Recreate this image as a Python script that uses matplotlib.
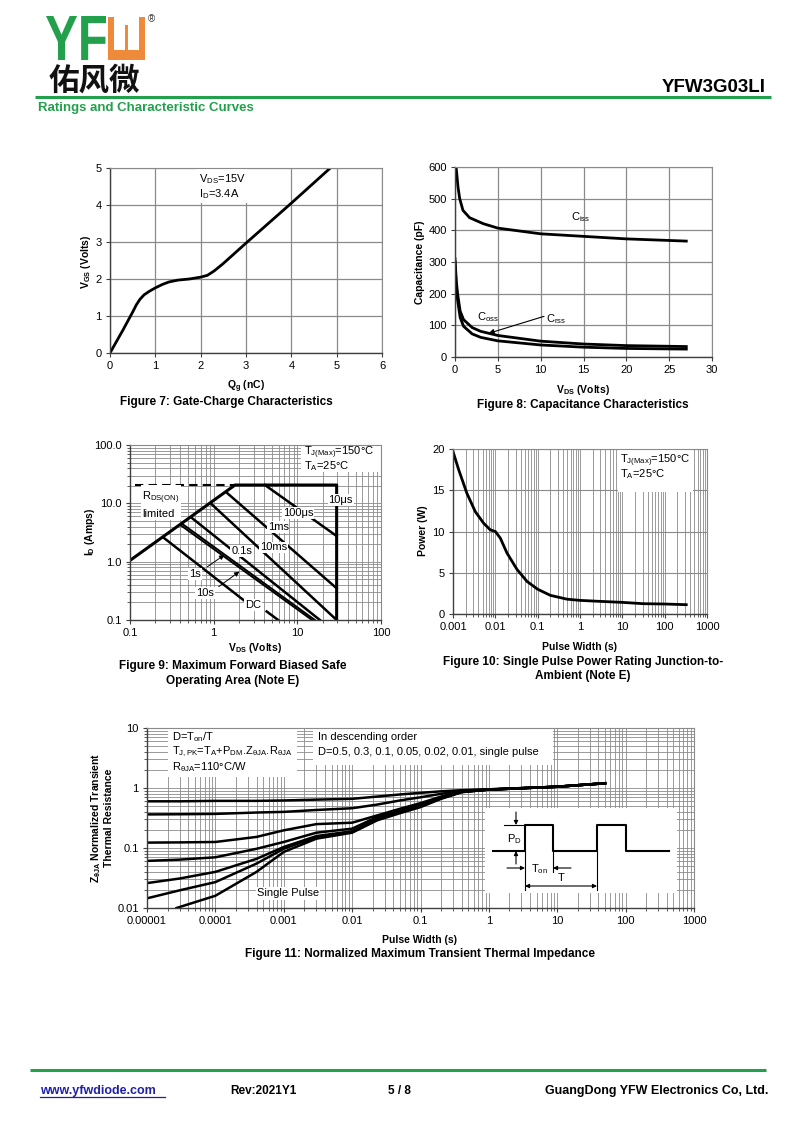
import numpy as np
import matplotlib.pyplot as plt
from matplotlib.patches import Rectangle, PathPatch
from matplotlib.textpath import TextPath
from matplotlib.font_manager import FontProperties
from matplotlib.transforms import Affine2D
from matplotlib.ticker import NullFormatter

plt.rcParams['font.family'] = ['Liberation Sans', 'DejaVu Sans']
plt.rcParams['mathtext.fontset'] = 'custom'
plt.rcParams['mathtext.rm'] = 'Liberation Sans'
plt.rcParams['mathtext.bf'] = 'Liberation Sans:bold'
plt.rcParams['mathtext.it'] = 'Liberation Sans:italic'

W, H = 800, 1130
GREEN = '#22a04b'
ORANGE = '#ef8a3b'
GRID = '#8a8a8a'

# Figure 7: gate charge
qg = [0, 0.29, 0.51, 0.58, 0.66, 0.75, 0.87, 1.0, 1.15, 1.3, 1.5, 1.75, 2.0, 2.15,
      2.3, 2.5, 3.0, 4.0, 4.86]
vgs = [0, 0.63, 1.13, 1.3, 1.45, 1.57, 1.67, 1.76, 1.85, 1.92, 1.97, 2.0, 2.05, 2.1,
       2.22, 2.42, 2.97, 4.05, 5.0]

# Figure 8: capacitance
vds_ciss = [0.08, 0.15, 0.35, 0.55, 0.93, 1.7, 3.3, 5, 10, 15, 20, 27]
ciss = [600, 594, 537, 500, 463, 440, 421, 407, 389, 381, 373, 366]
vds_c = [0, 0.15, 0.3, 0.6, 1, 2, 3, 5, 10, 15, 20, 27]
coss = [310, 240, 200, 145, 118, 93, 81, 68, 50, 41, 36, 33]
crss = [300, 220, 180, 125, 97, 73, 62, 51, 38, 31, 27, 25]

# Figure 9: safe operating area (line end points)
soa_env_v = [0.1, 1.8, 29.5, 29.5]
soa_env_i = [1.05, 20.6, 20.6, 0.1]
soa_dash_v = [0.115, 1.8]
soa_dash_i = [20.6, 20.6]
soa_lines = {
    '100us': ([4.1, 29.5], [20.6, 2.75]),
    '1ms': ([1.45, 29.5], [15.0, 0.35]),
    '10ms': ([0.95, 29.5], [9.6, 0.1]),
    '0.1s': ([0.55, 18.6], [5.6, 0.1]),
    'DC_a': ([0.25, 2.27], [2.6, 0.22]),
    'DC_b': ([4.3, 5.9], [0.14, 0.1]),
}
soa_pair = {
    '1s': ([0.425, 16.2], [4.4, 0.1]),
    '10s': ([0.405, 15.0], [4.2, 0.1]),
}
soa_labels = [('10μs', 33, 11.5), ('100μs', 10.3, 6.8), ('1ms', 5.9, 3.9),
              ('10ms', 5.15, 1.76), ('0.1s', 2.16, 1.52), ('1s', 0.6, 0.61),
              ('10s', 0.79, 0.29), ('DC', 2.97, 0.18)]

# Figure 10: single pulse power
tp = [0.001, 0.00136, 0.00214, 0.00337, 0.0053, 0.0076, 0.01, 0.0131, 0.0188,
      0.0325, 0.056, 0.1, 0.2, 0.49, 1, 3, 10, 31, 100, 324]
pw = [19.7, 17.5, 14.6, 12.4, 11.0, 10.2, 10.0, 9.2, 7.4, 5.4, 3.95, 3.0, 2.26,
      1.8, 1.65, 1.53, 1.41, 1.25, 1.21, 1.13]

# Figure 11: transient thermal impedance
tw = [1e-5, 3e-5, 1e-4, 4e-4, 1e-3, 3e-3, 0.01, 0.0234, 0.05, 0.1, 0.2, 0.4, 1, 10, 50]
z_duty = {
    '0.5': [0.6, 0.6, 0.61, 0.61, 0.62, 0.64, 0.66, 0.72, 0.78, 0.83, 0.88, 0.92, 0.95, 1.05, 1.2],
    '0.3': [0.363, 0.365, 0.37, 0.39, 0.4, 0.43, 0.46, 0.53, 0.62, 0.7, 0.8, 0.9, 0.95, 1.05, 1.2],
    '0.1': [0.123, 0.124, 0.126, 0.153, 0.197, 0.25, 0.264, 0.35, 0.45, 0.56, 0.72, 0.88, 0.94, 1.05, 1.2],
    '0.05': [0.061, 0.064, 0.07, 0.097, 0.126, 0.18, 0.21, 0.33, 0.42, 0.53, 0.7, 0.87, 0.94, 1.05, 1.2],
    '0.02': [0.026, 0.031, 0.04, 0.066, 0.104, 0.158, 0.19, 0.31, 0.4, 0.51, 0.68, 0.86, 0.94, 1.05, 1.2],
    '0.01': [0.0145, 0.0197, 0.027, 0.055, 0.097, 0.153, 0.185, 0.3, 0.39, 0.5, 0.67, 0.86, 0.94, 1.05, 1.2],
}
tw_single = [2.7e-5, 1e-4, 4e-4, 1e-3, 3e-3, 0.01, 0.0234, 0.05, 0.1, 0.2, 0.4, 1, 10, 50]
z_single = [0.01, 0.016, 0.04, 0.086, 0.143, 0.18, 0.29, 0.38, 0.48, 0.66, 0.85, 0.94, 1.05, 1.2]

fig = plt.figure(figsize=(8, 11.3), dpi=100)


def px_axes(l, r, t, b):
    return fig.add_axes([l / W, 1 - b / H, (r - l) / W, (b - t) / H])


def frame(ax):
    for s in ['left', 'bottom']:
        ax.spines[s].set_color('#404040')
        ax.spines[s].set_linewidth(1.0)
    for s in ['top', 'right']:
        ax.spines[s].set_color(GRID)
        ax.spines[s].set_linewidth(0.8)
    ax.tick_params(which='major', direction='out', length=3, width=0.8,
                   color='#404040', labelsize=8, pad=3)
    ax.tick_params(which='minor', direction='out', length=2, width=0.6, color='#404040')
    ax.set_axisbelow(True)


def white_box(ax, x0, x1, y0, y1):
    ax.add_patch(Rectangle((x0, y0), x1 - x0, y1 - y0, fc='white', ec='none', zorder=1.6))


# ---- Figure 7
ax7 = px_axes(110, 382, 168, 353)
frame(ax7)
ax7.plot(qg, vgs, color='k', lw=2)
ax7.set_xlim(0, 6)
ax7.set_ylim(0, 5)
ax7.set_xticks(range(7))
ax7.set_yticks(range(6))
ax7.grid(True, color=GRID, lw=0.9)
white_box(ax7, 1.87, 3.04, 4.05, 5.0)
ax7.text(1.96, 4.7, r'V$_{\mathrm{DS}}$=15V', fontsize=8, va='center', zorder=3)
ax7.text(1.96, 4.3, r'I$_{\mathrm{D}}$=3.4A', fontsize=8, va='center', zorder=3)

# ---- Figure 8
ax8 = px_axes(455, 712, 167, 357)
frame(ax8)
ax8.plot(vds_ciss, ciss, color='k', lw=2)
ax8.plot(vds_c, coss, color='k', lw=2)
ax8.plot(vds_c, crss, color='k', lw=2)
ax8.set_xlim(0, 30)
ax8.set_ylim(0, 600)
ax8.set_xticks(range(0, 31, 5))
ax8.set_yticks(range(0, 601, 100))
ax8.grid(True, color=GRID, lw=0.9)
ax8.text(14.7, 442, r'C$_{\mathrm{iss}}$', fontsize=8, ha='center', va='center')
ax8.text(3.85, 126, r'C$_{\mathrm{oss}}$', fontsize=8, ha='center', va='center')
ax8.text(11.8, 121, r'C$_{\mathrm{rss}}$', fontsize=8, ha='center', va='center')
ax8.annotate('', xy=(3.6, 72), xytext=(10.7, 131),
             arrowprops=dict(arrowstyle='-|>', color='k', lw=0.8, mutation_scale=8))

# ---- Figure 9
ax9 = px_axes(130, 381, 445, 620)
frame(ax9)
ax9.set_xscale('log')
ax9.set_yscale('log')
ax9.set_xlim(0.1, 100)
ax9.set_ylim(0.1, 100)
ax9.grid(True, which='both', color=GRID, lw=0.6)
ax9.plot(soa_env_v, soa_env_i, color='k', lw=2.2)
ax9.plot(soa_dash_v, soa_dash_i, color='k', lw=1.5, ls=(0, (4, 2.5)))
for name, (v, i) in soa_lines.items():
    ax9.plot(v, i, color='k', lw=1.8)
for name, (v, i) in soa_pair.items():
    ax9.plot(v, i, color='k', lw=1.4)
ax9.set_xticks([0.1, 1, 10, 100], ['0.1', '1', '10', '100'])
ax9.set_yticks([0.1, 1, 10, 100], ['0.1', '1.0', '10.0', '100.0'])
ax9.xaxis.set_minor_formatter(NullFormatter())
ax9.yaxis.set_minor_formatter(NullFormatter())
bb = dict(fc='white', ec='none', pad=0.6)
for txt, v, i in soa_labels:
    ax9.text(v, i, txt, fontsize=8, ha='center', va='center', bbox=bb, zorder=3)
ax9.annotate('', xy=(1.43, 1.39), xytext=(0.79, 0.77),
             arrowprops=dict(arrowstyle='-|>', color='k', lw=0.7, mutation_scale=7))
ax9.annotate('', xy=(2.16, 0.72), xytext=(1.08, 0.35),
             arrowprops=dict(arrowstyle='-|>', color='k', lw=0.7, mutation_scale=7))
white_box(ax9, 11, 100, 34, 100)
ax9.text(0.14, 9.6, r'R$_{\mathrm{DS(ON)}}$' + '\nlimited', fontsize=8, ha='left',
         va='center', bbox=dict(fc='white', ec='none', pad=1.0), zorder=3, linespacing=1.3)
ax9.text(12, 73, r'T$_{\mathrm{J(Max)}}$=150°C', fontsize=8, va='center', zorder=3)
ax9.text(12, 43, r'T$_{\mathrm{A}}$=25°C', fontsize=8, va='center', zorder=3)

# ---- Figure 10
ax10 = px_axes(453, 707, 449, 614)
frame(ax10)
ax10.set_xscale('log')
ax10.set_xlim(0.001, 1000)
ax10.set_ylim(0, 20)
ax10.grid(True, which='both', axis='x', color=GRID, lw=0.6)
ax10.grid(True, which='major', axis='y', color=GRID, lw=0.8)
ax10.plot(tp, pw, color='k', lw=2)
ax10.set_xticks([0.001, 0.01, 0.1, 1, 10, 100, 1000],
                ['0.001', '0.01', '0.1', '1', '10', '100', '1000'])
ax10.set_yticks(range(0, 21, 5))
ax10.xaxis.set_minor_formatter(NullFormatter())
white_box(ax10, 7.9, 468, 14.8, 20)
ax10.text(9, 18.6, r'T$_{\mathrm{J(Max)}}$=150°C', fontsize=8, va='center', zorder=3)
ax10.text(9, 16.9, r'T$_{\mathrm{A}}$=25°C', fontsize=8, va='center', zorder=3)

# ---- Figure 11
ax11 = px_axes(147, 694, 728, 908)
frame(ax11)
ax11.set_xscale('log')
ax11.set_yscale('log')
ax11.set_xlim(1e-5, 1000)
ax11.set_ylim(0.01, 10)
ax11.grid(True, which='both', color=GRID, lw=0.6)
for d, z in z_duty.items():
    ax11.plot(tw, z, color='k', lw=1.8)
ax11.plot(tw_single, z_single, color='k', lw=1.8)
ax11.set_xticks([1e-5, 1e-4, 1e-3, 0.01, 0.1, 1, 10, 100, 1000],
                ['0.00001', '0.0001', '0.001', '0.01', '0.1', '1', '10', '100', '1000'])
ax11.set_yticks([0.01, 0.1, 1, 10], ['0.01', '0.1', '1', '10'])
ax11.xaxis.set_minor_formatter(NullFormatter())
ax11.yaxis.set_minor_formatter(NullFormatter())
white_box(ax11, 2.03e-5, 1.56e-3, 1.52, 10)
white_box(ax11, 2.67e-3, 8.6, 2.4, 10)
ax11.text(1.15e-3, 0.0175, 'Single Pulse', fontsize=8, ha='center', va='center',
          bbox=dict(fc='white', ec='none', pad=1.0), zorder=3)
ax11.text(2.32e-5, 7.08, r'D=T$_{\mathrm{on}}$/T', fontsize=8, va='center', zorder=3)
ax11.text(2.32e-5, 3.98, r'T$_{\mathrm{J,PK}}$=T$_{\mathrm{A}}$+P$_{\mathrm{DM}}$.Z$_{\mathrm{θJA}}$.R$_{\mathrm{θJA}}$',
          fontsize=8, va='center', zorder=3)
ax11.text(2.32e-5, 2.24, r'R$_{\mathrm{θJA}}$=110°C/W', fontsize=8, va='center', zorder=3)
ax11.text(3.16e-3, 7.08, 'In descending order', fontsize=8, va='center', zorder=3)
ax11.text(3.16e-3, 3.98, 'D=0.5, 0.3, 0.1, 0.05, 0.02, 0.01, single pulse', fontsize=8,
          va='center', zorder=3)

# ---- page overlay (pixel coordinates)
ov = fig.add_axes([0, 0, 1, 1], zorder=10)
ov.set_xlim(0, W)
ov.set_ylim(H, 0)
ov.axis('off')

# logo
fp = FontProperties(family='Liberation Sans', weight='bold')
yf = TextPath((0, 0), 'YF', size=1, prop=fp)
ext = yf.get_extents()
tr = (Affine2D().translate(-ext.x0, -ext.y0)
      .scale((106 - 46) / ext.width, -(60 - 16) / ext.height).translate(46, 60))
ov.add_patch(PathPatch(tr.transform_path(yf), fc=GREEN, ec='none'))
ov.add_patch(Rectangle((108, 17), 37, 43, fc=ORANGE, ec='none'))
ov.add_patch(Rectangle((114, 17), 25, 33, fc='white', ec='none'))
ov.add_patch(Rectangle((125.3, 25), 2.4, 25, fc=ORANGE, ec='none'))
ov.text(148, 19, '®', fontsize=7, ha='left', va='center', color='#333333')
ov.text(49, 90, '佑风微', fontsize=22, fontweight='bold', family=['Noto Sans CJK SC'],
        va='baseline', color='#111111')
ov.text(766, 92, 'YFW3G03LI', fontsize=13.5, fontweight='bold', ha='right', va='baseline')
ov.plot([35, 771], [96.5, 96.5], color=GREEN, lw=2.2, solid_capstyle='butt')
ov.text(38, 111, 'Ratings and Characteristic Curves', fontsize=9.5, fontweight='bold',
        color=GREEN, va='baseline')

# axis labels
lab = dict(fontsize=7.5, fontweight='bold', ha='center', va='center')
ov.text(246, 387, r'Q$_{\mathbf{g}}$ (nC)', **lab)
ov.text(86, 262, r'V$_{\mathbf{GS}}$ (Volts)', rotation=90, **lab)
ov.text(583, 390, r'V$_{\mathbf{DS}}$ (Volts)', **lab)
ov.text(420, 262, 'Capacitance (pF)', rotation=90, **lab)
ov.text(255, 648, r'V$_{\mathbf{DS}}$ (Volts)', **lab)
ov.text(90, 532, r'I$_{\mathbf{D}}$ (Amps)', rotation=90, **lab)
ov.text(580, 647, 'Pulse Width (s)', **lab)
ov.text(423, 531, 'Power (W)', rotation=90, **lab)
ov.text(420, 940, 'Pulse Width (s)', **lab)
ov.text(102, 818, r'Z$_{\mathbf{θJA}}$ Normalized Transient' + '\nThermal Resistance',
        rotation=90, linespacing=1.15, **lab)

# captions
cap = dict(fontsize=8.5, fontweight='bold', ha='center', va='center')
ov.text(226, 402, 'Figure 7: Gate-Charge Characteristics', **cap)
ov.text(583, 405, 'Figure 8: Capacitance Characteristics', **cap)
ov.text(233, 666, 'Figure 9: Maximum Forward Biased Safe', **cap)
ov.text(233, 681, 'Operating Area (Note E)', **cap)
ov.text(583, 662, 'Figure 10: Single Pulse Power Rating Junction-to-', **cap)
ov.text(583, 676, 'Ambient (Note E)', **cap)
ov.text(420, 954, 'Figure 11: Normalized Maximum Transient Thermal Impedance', **cap)

# pulse sketch inside figure 11
ov.add_patch(Rectangle((485, 808), 192, 85, fc='white', ec='none'))
ov.plot([493, 525, 525, 553, 553, 597, 597, 626, 626, 669],
        [851, 851, 825, 825, 851, 851, 825, 825, 851, 851], color='k', lw=1.5)
ov.plot([504, 525], [825, 825], color='k', lw=0.8)
for (x0, y0), (x1, y1) in [((525, 851), (525, 890)), ((553, 851), (553, 872)),
                           ((597, 851), (597, 890))]:
    ov.plot([x0, x1], [y0, y1], color='k', lw=0.8)
arr = dict(arrowstyle='-|>', color='k', lw=0.8, mutation_scale=6, shrinkA=0, shrinkB=0)
ov.annotate('', xy=(516, 825), xytext=(516, 812), arrowprops=arr)
ov.annotate('', xy=(516, 851), xytext=(516, 864), arrowprops=arr)
ov.annotate('', xy=(525, 868), xytext=(507, 868), arrowprops=arr)
ov.annotate('', xy=(553, 868), xytext=(571, 868), arrowprops=arr)
ov.annotate('', xy=(597, 886), xytext=(525, 886),
            arrowprops=dict(arrowstyle='<|-|>', color='k', lw=0.8, mutation_scale=6,
                            shrinkA=0, shrinkB=0))
ov.text(514, 839, r'P$_{\mathrm{D}}$', fontsize=8, ha='center', va='center')
ov.text(539, 869, r'T$_{\mathrm{on}}$', fontsize=8, ha='center', va='center')
ov.text(561, 878, 'T', fontsize=8, ha='center', va='center')

# footer
ov.plot([30, 766], [1070, 1070], color=GREEN, lw=2.2, solid_capstyle='butt')
ov.text(40, 1094, 'www.yfwdiode.com', fontsize=9, fontweight='bold', color='#1f1fa8',
        va='baseline')
ov.plot([40, 165], [1097, 1097], color='#1f1fa8', lw=0.9)
ov.text(230, 1094, 'Rev:2021Y1', fontsize=8.5, fontweight='bold', va='baseline')
ov.text(388, 1094, '5 / 8', fontsize=8.5, fontweight='bold', va='baseline')
ov.text(768, 1094, 'GuangDong YFW Electronics Co, Ltd.', fontsize=9, fontweight='bold',
        ha='right', va='baseline')

fig.savefig('out.png', dpi=100)
